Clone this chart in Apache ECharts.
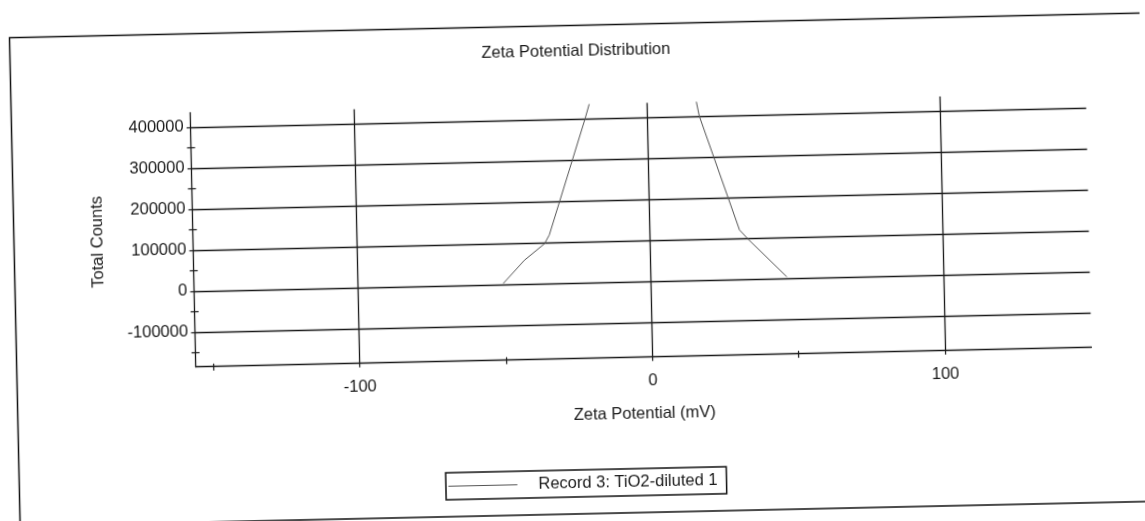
<!DOCTYPE html>
<html>
<head>
<meta charset="utf-8">
<script src="https://cdn.jsdelivr.net/npm/echarts@6/dist/echarts.min.js"></script>
<style>
  html, body { margin: 0; padding: 0; background: #fff; overflow: hidden; }
  #chart { width: 1145px; height: 521px; transform: rotate(-1.25deg); transform-origin: 50% 50%; }
</style>
</head>
<body>
<div id="chart"></div>
<script>
// ---- data ----
const titleText = 'Zeta Potential Distribution';
const xName = 'Zeta Potential (mV)';
const yName = 'Total Counts';
const seriesName = 'Record 3: TiO2-diluted 1';

const xMin = -156, xMax = 150;
const yMin = -185000, yMax = 435000;

const xTickLabels = [-100, 0, 100];
const xTicks = [-150, -100, -50, 0, 50, 100];
const xMinorTicks = [-150, -50, 50];
const yTickLabels = [-100000, 0, 100000, 200000, 300000, 400000];
const yTicks = [-150000, -100000, -50000, 0, 50000, 100000, 150000, 200000, 250000, 300000, 350000, 400000];
const yMinorTicks = [-150000, -50000, 50000, 150000, 250000, 350000];

// left flank of the distribution (leaves the plot at the top)
const leftX = [-50.4, -43.0, -36.0, -34.3, -21.2, -19.7];
const leftY = [2000, 57600, 97000, 118000, 400000, 435000];
// right flank of the distribution (enters from the top)
const rightX = [16.9, 17.8, 30.7, 33.8, 46.5];
const rightY = [435000, 400000, 120000, 95500, 3300];

// ---- build ----
const data = [];
leftX.forEach((x, i) => data.push([x, leftY[i]]));
data.push([0, '-']);
rightX.forEach((x, i) => data.push([x, rightY[i]]));

const gridLines = [];
xTickLabels.forEach(v => gridLines.push({ xAxis: v }));
yTickLabels.forEach(v => gridLines.push({ yAxis: v }));

const FONT = 'Liberation Sans, Arial, sans-serif';
const TXT = '#1a1a1a';
const LINE = '#1a1a1a';

const chart = echarts.init(document.getElementById('chart'), null, { renderer: 'canvas' });
chart.setOption({
  backgroundColor: '#fff',
  animation: false,
  title: {
    text: titleText,
    left: 486,
    top: 38,
    padding: [5, 0, 5, 0],
    textStyle: { fontFamily: FONT, fontSize: 16.5, fontWeight: 'normal', color: TXT }
  },
  graphic: [{
    type: 'rect',
    shape: { x: 14.5, y: 25.5, width: 1131.5, height: 488.5 },
    style: { fill: null, stroke: '#111', lineWidth: 1.5 },
    silent: true
  }],
  legend: {
    show: true,
    left: 441,
    top: 470,
    orient: 'horizontal',
    icon: 'inherit',
    itemWidth: 69,
    itemHeight: 14,
    padding: [5, 9, 5, 2],
    borderColor: '#111',
    borderWidth: 1.5,
    backgroundColor: '#fff',
    itemStyle: { opacity: 0 },
    lineStyle: { color: '#555', width: 1, opacity: 1 },
    textStyle: { fontFamily: FONT, fontSize: 16.5, color: TXT, padding: [0, 0, 0, 16] },
    data: [seriesName]
  },
  grid: {
    left: 193.6, right: 55.6, top: 104.5, bottom: 162.3,
    containLabel: false, outerBoundsMode: 'none'
  },
  xAxis: [{
    type: 'value', min: xMin, max: xMax,
    name: xName, nameLocation: 'middle', nameGap: 48,
    nameTextStyle: { fontFamily: FONT, fontSize: 16.5, color: TXT },
    axisLine: { show: true, onZero: false, lineStyle: { color: LINE, width: 1.3 } },
    axisTick: { show: true, inside: false, length: 4, customValues: xTicks, lineStyle: { color: LINE, width: 1.2 } },
    axisLabel: { show: true, margin: 15, customValues: xTickLabels, formatter: v => String(v),
      fontFamily: FONT, fontSize: 16.5, color: TXT },
    splitLine: { show: false }
  }, {
    type: 'value', min: xMin, max: xMax, position: 'bottom',
    axisLine: { show: false, onZero: false },
    axisTick: { show: true, inside: true, length: 3, customValues: xMinorTicks, lineStyle: { color: LINE, width: 1.2 } },
    axisLabel: { show: false },
    splitLine: { show: false }
  }],
  yAxis: [{
    type: 'value', min: yMin, max: yMax,
    name: yName, nameLocation: 'middle', nameGap: 87, nameRotate: 90,
    nameTextStyle: { fontFamily: FONT, fontSize: 16.5, color: TXT },
    axisLine: { show: true, onZero: false, lineStyle: { color: LINE, width: 1.3 } },
    axisTick: { show: true, inside: false, length: 4, customValues: yTicks, lineStyle: { color: LINE, width: 1.2 } },
    axisLabel: { show: true, margin: 7, customValues: yTickLabels, formatter: v => String(v),
      fontFamily: FONT, fontSize: 16.5, color: TXT },
    splitLine: { show: false }
  }, {
    type: 'value', min: yMin, max: yMax, position: 'left',
    axisLine: { show: false, onZero: false },
    axisTick: { show: true, inside: true, length: 4, customValues: yMinorTicks, lineStyle: { color: LINE, width: 1.2 } },
    axisLabel: { show: false },
    splitLine: { show: false }
  }],
  series: [{
    name: seriesName,
    type: 'line',
    xAxisIndex: 0, yAxisIndex: 0,
    data: data,
    showSymbol: false,
    symbol: 'none',
    connectNulls: false,
    clip: true,
    lineStyle: { color: '#555', width: 1 },
    itemStyle: { color: '#555' },
    emphasis: { disabled: true },
    z: 3,
    markLine: {
      silent: true,
      symbol: ['none', 'none'],
      label: { show: false },
      emphasis: { disabled: true },
      lineStyle: { color: LINE, width: 1.3, type: 'solid' },
      data: gridLines,
      z: 2
    }
  }]
});
</script>
</body>
</html>
